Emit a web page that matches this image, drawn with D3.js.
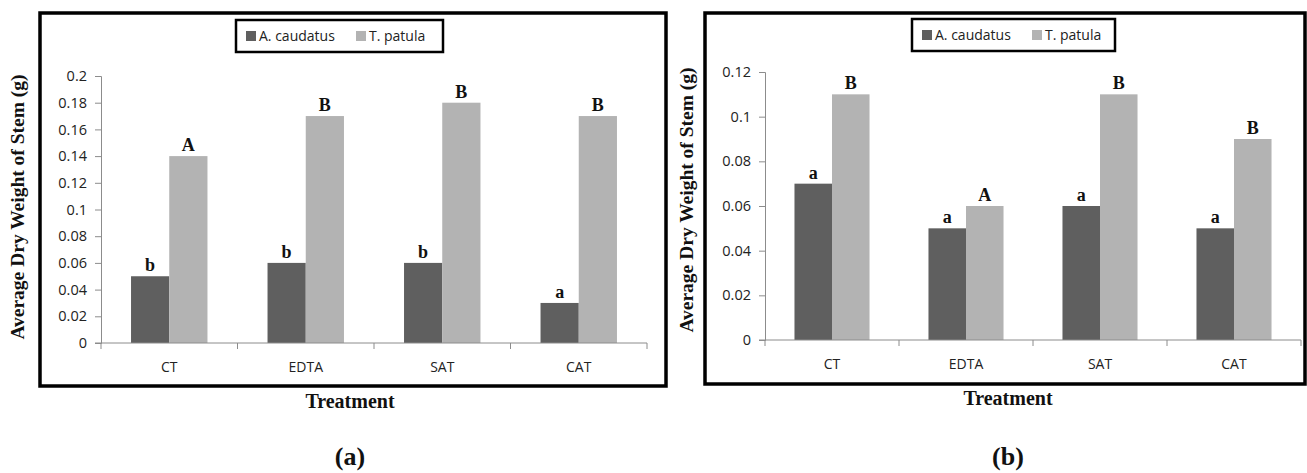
<!DOCTYPE html>
<html>
<head>
<meta charset="utf-8">
<script src="https://cdn.jsdelivr.net/npm/d3@7"></script>
<style>
  body { margin: 0; background: #fff; }
  svg { display: block; }
</style>
</head>
<body>
<script>
/* Data */

var treatments = ["CT", "EDTA", "SAT", "CAT"];
var seriesNames = ["A. caudatus", "T. patula"];

// panel (a)
var caudatusA = [0.05, 0.06, 0.06, 0.03];
var patulaA = [0.14, 0.17, 0.18, 0.17];
var caudatusLettersA = ["b", "b", "b", "a"];
var patulaLettersA = ["A", "B", "B", "B"];
var ticksA = [0, 0.02, 0.04, 0.06, 0.08, 0.1, 0.12, 0.14, 0.16, 0.18, 0.2];

// panel (b)
var caudatusB = [0.07, 0.05, 0.06, 0.05];
var patulaB = [0.11, 0.06, 0.11, 0.09];
var caudatusLettersB = ["a", "a", "a", "a"];
var patulaLettersB = ["B", "A", "B", "B"];
var ticksB = [0, 0.02, 0.04, 0.06, 0.08, 0.1, 0.12];

var colors = ["#5f5f5f", "#b3b3b3"];

var width = 1307;
var height = 473;

var serif = "'Liberation Serif', 'Times New Roman', serif";
var sans = "'Open Sans', 'DejaVu Sans', sans-serif";

var svg = d3.select("body").append("svg")
	.attr("width", width)
	.attr("height", height);


function drawPanel(p) {
	var g = svg.append("g");

	// frame
	g.append("rect")
		.attr("x", p.box[0]).attr("y", p.box[1])
		.attr("width", p.box[2]).attr("height", p.box[3])
		.attr("fill", "none")
		.attr("stroke", "#000")
		.attr("stroke-width", 3.5);

	var x = d3.scaleBand()
		.domain(treatments)
		.range([p.left, p.right])
		.paddingInner(0.44)
		.paddingOuter(0.22);

	var xs = d3.scaleBand()
		.domain([0, 1])
		.range([0, x.bandwidth()]);

	var y = d3.scaleLinear()
		.domain([0, d3.max(p.ticks)])
		.range([p.bottom, p.top]);

	// bars
	var rows = treatments.map(function(t, i) {
		return [
			{t: t, s: 0, v: p.dark[i], lab: p.darkLetters[i]},
			{t: t, s: 1, v: p.light[i], lab: p.lightLetters[i]}
		];
	});

	var grp = g.selectAll(".grp")
		.data(rows)
		.enter().append("g")
			.attr("transform", function(d) { return "translate(" + x(d[0].t) + ",0)"; });

	grp.selectAll("rect")
		.data(function(d) { return d; })
		.enter().append("rect")
			.attr("x", function(d) { return xs(d.s); })
			.attr("y", function(d) { return y(d.v); })
			.attr("width", xs.bandwidth())
			.attr("height", function(d) { return y(0) - y(d.v); })
			.attr("fill", function(d) { return colors[d.s]; });

	grp.selectAll("text")
		.data(function(d) { return d; })
		.enter().append("text")
			.attr("x", function(d) { return xs(d.s) + xs.bandwidth() / 2; })
			.attr("y", function(d) { return y(d.v) - 5; })
			.attr("text-anchor", "middle")
			.attr("font-family", serif)
			.attr("font-weight", "bold")
			.attr("font-size", 18)
			.attr("fill", "#111")
			.text(function(d) { return d.lab; });

	// axes
	var yAxis = g.append("g")
		.attr("transform", "translate(" + p.left + ",0)")
		.call(d3.axisLeft(y)
			.tickValues(p.ticks)
			.tickSize(6)
			.tickPadding(8)
			.tickFormat(function(d) { return String(+d.toFixed(2)); }));

	var edges = treatments.map(function(t) { return x(t) - x.step() * x.paddingInner() / 2; });
	edges[0] = p.left;
	edges.push(p.right);

	var xAxis = g.append("g")
		.attr("transform", "translate(0," + p.bottom + ")");
	xAxis.append("line")
		.attr("x1", p.left - 6).attr("x2", p.right)
		.attr("stroke", "#8c8c8c");
	xAxis.selectAll(".tk")
		.data(edges)
		.enter().append("line")
			.attr("x1", function(d) { return d; })
			.attr("x2", function(d) { return d; })
			.attr("y2", 6)
			.attr("stroke", "#8c8c8c");
	xAxis.selectAll(".lbl")
		.data(treatments)
		.enter().append("text")
			.attr("x", function(d) { return x(d) + x.bandwidth() / 2; })
			.attr("y", 29)
			.attr("text-anchor", "middle")
			.attr("font-family", sans)
			.attr("font-size", 14)
			.attr("fill", "#222")
			.text(function(d) { return d; });

	yAxis.select(".domain").attr("stroke", "#8c8c8c");
	yAxis.selectAll(".tick line").attr("stroke", "#8c8c8c");
	yAxis.selectAll(".tick text")
		.attr("font-family", sans)
		.attr("font-size", 14.5)
		.attr("fill", "#222");

	// y title
	g.append("text")
		.attr("transform", "translate(" + p.yTitleX + "," + p.yTitleY + ") rotate(-90)")
		.attr("text-anchor", "middle")
		.attr("font-family", serif)
		.attr("font-weight", "bold")
		.attr("font-size", 19.5)
		.attr("fill", "#111")
		.text("Average Dry Weight of Stem (g)");

	// x title
	g.append("text")
		.attr("x", p.titleX).attr("y", p.bottom + 65)
		.attr("text-anchor", "middle")
		.attr("font-family", serif)
		.attr("font-weight", "bold")
		.attr("font-size", 20)
		.attr("fill", "#111")
		.text("Treatment");

	// panel letter
	g.append("text")
		.attr("x", p.titleX).attr("y", 465)
		.attr("text-anchor", "middle")
		.attr("font-family", serif)
		.attr("font-weight", "bold")
		.attr("font-size", 26)
		.attr("fill", "#111")
		.text(p.tag);

	// legend
	var lg = g.append("g").attr("transform", "translate(" + p.legend[0] + "," + p.legend[1] + ")");
	lg.append("rect")
		.attr("width", p.legend[2]).attr("height", 32)
		.attr("fill", "#fff")
		.attr("stroke", "#000")
		.attr("stroke-width", 2.5);
	var offs = [10, 120];
	seriesNames.forEach(function(name, i) {
		lg.append("rect")
			.attr("x", offs[i]).attr("y", 11)
			.attr("width", 10).attr("height", 10)
			.attr("fill", colors[i]);
		lg.append("text")
			.attr("x", offs[i] + 13).attr("y", 21)
			.attr("font-family", sans)
			.attr("font-size", 14)
			.attr("fill", "#222")
			.text(name);
	});
}


drawPanel({
	box: [40, 13, 626, 373],
	left: 101, right: 647, top: 76, bottom: 343,
	ticks: ticksA, dark: caudatusA, light: patulaA,
	darkLetters: caudatusLettersA, lightLetters: patulaLettersA,
	yTitleX: 24, yTitleY: 207, titleX: 350, tag: "(a)",
	legend: [236, 20, 207]
});

drawPanel({
	box: [705, 13, 600, 371],
	left: 765, right: 1301, top: 72, bottom: 340,
	ticks: ticksB, dark: caudatusB, light: patulaB,
	darkLetters: caudatusLettersB, lightLetters: patulaLettersB,
	yTitleX: 693, yTitleY: 200, titleX: 1008, tag: "(b)",
	legend: [912, 19, 203]
});
</script>
</body>
</html>
